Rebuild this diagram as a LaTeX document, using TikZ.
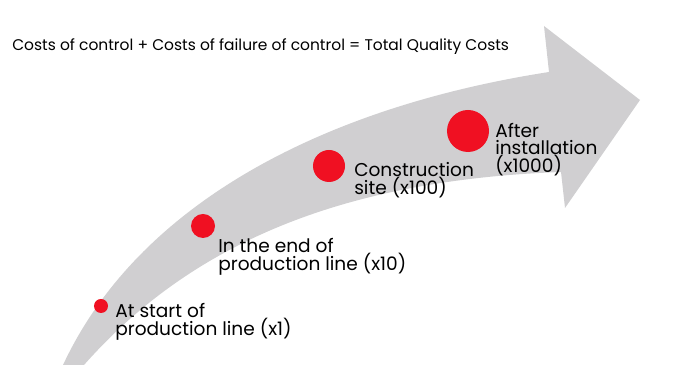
\documentclass[tikz,border=0pt]{standalone}
\usepackage{fontspec}
\setsansfont{Poppins}
\usetikzlibrary{positioning}
\definecolor{bandgray}{RGB}{208,207,209}
\definecolor{dotred}{RGB}{240,16,34}

\begin{document}
\begin{tikzpicture}[
    x=0.025cm, y=-0.025cm,
    font=\sffamily,
    dot/.style={circle, fill=dotred, inner sep=0pt},
    lbl/.style={anchor=base west, align=left, inner sep=0pt,
      font=\fontsize{13.2}{12}\selectfont\sffamily},
    ttl/.style={anchor=base west, inner sep=0pt,
      font=\fontsize{11}{13}\selectfont\sffamily}
  ]
  \useasboundingbox (0,0) rectangle (691,365);

  % --- Flecha gris ---
  \fill[bandgray] (63,365) .. controls (140,200) and (330,106) .. (549,72)
    -- (544,26) -- (640,100) -- (565,208) -- (561,172)
    .. controls (340,180) and (190,245) .. (84,365) -- cycle;

  % --- Titulo ---
  \node[ttl] (title) at (12,51)
    {Costs of control + Costs of failure of control = Total Quality Costs};

  % --- Puntos ---
  \node[dot, minimum size=0.35cm] (d1) at (101,306) {};
  \node[dot, minimum size=0.6cm] (d2) at (203,226) {};
  \node[dot, minimum size=0.8cm] (d3) at (329,166) {};
  \node[dot, minimum size=1.05cm] (d4) at (468,131) {};

  % --- Etiquetas (base = ultima linea) ---
  \node[lbl] (l1) at (115,336) {At start of\\production line (x1)};
  \node[lbl] (l2) at (218,271) {In the end of\\production line (x10)};
  \node[lbl] (l3) at (354,195) {Construction\\site (x100)};
  \node[lbl] (l4) at (495,173) {After\\installation\\(x1000)};
\end{tikzpicture}
\end{document}
